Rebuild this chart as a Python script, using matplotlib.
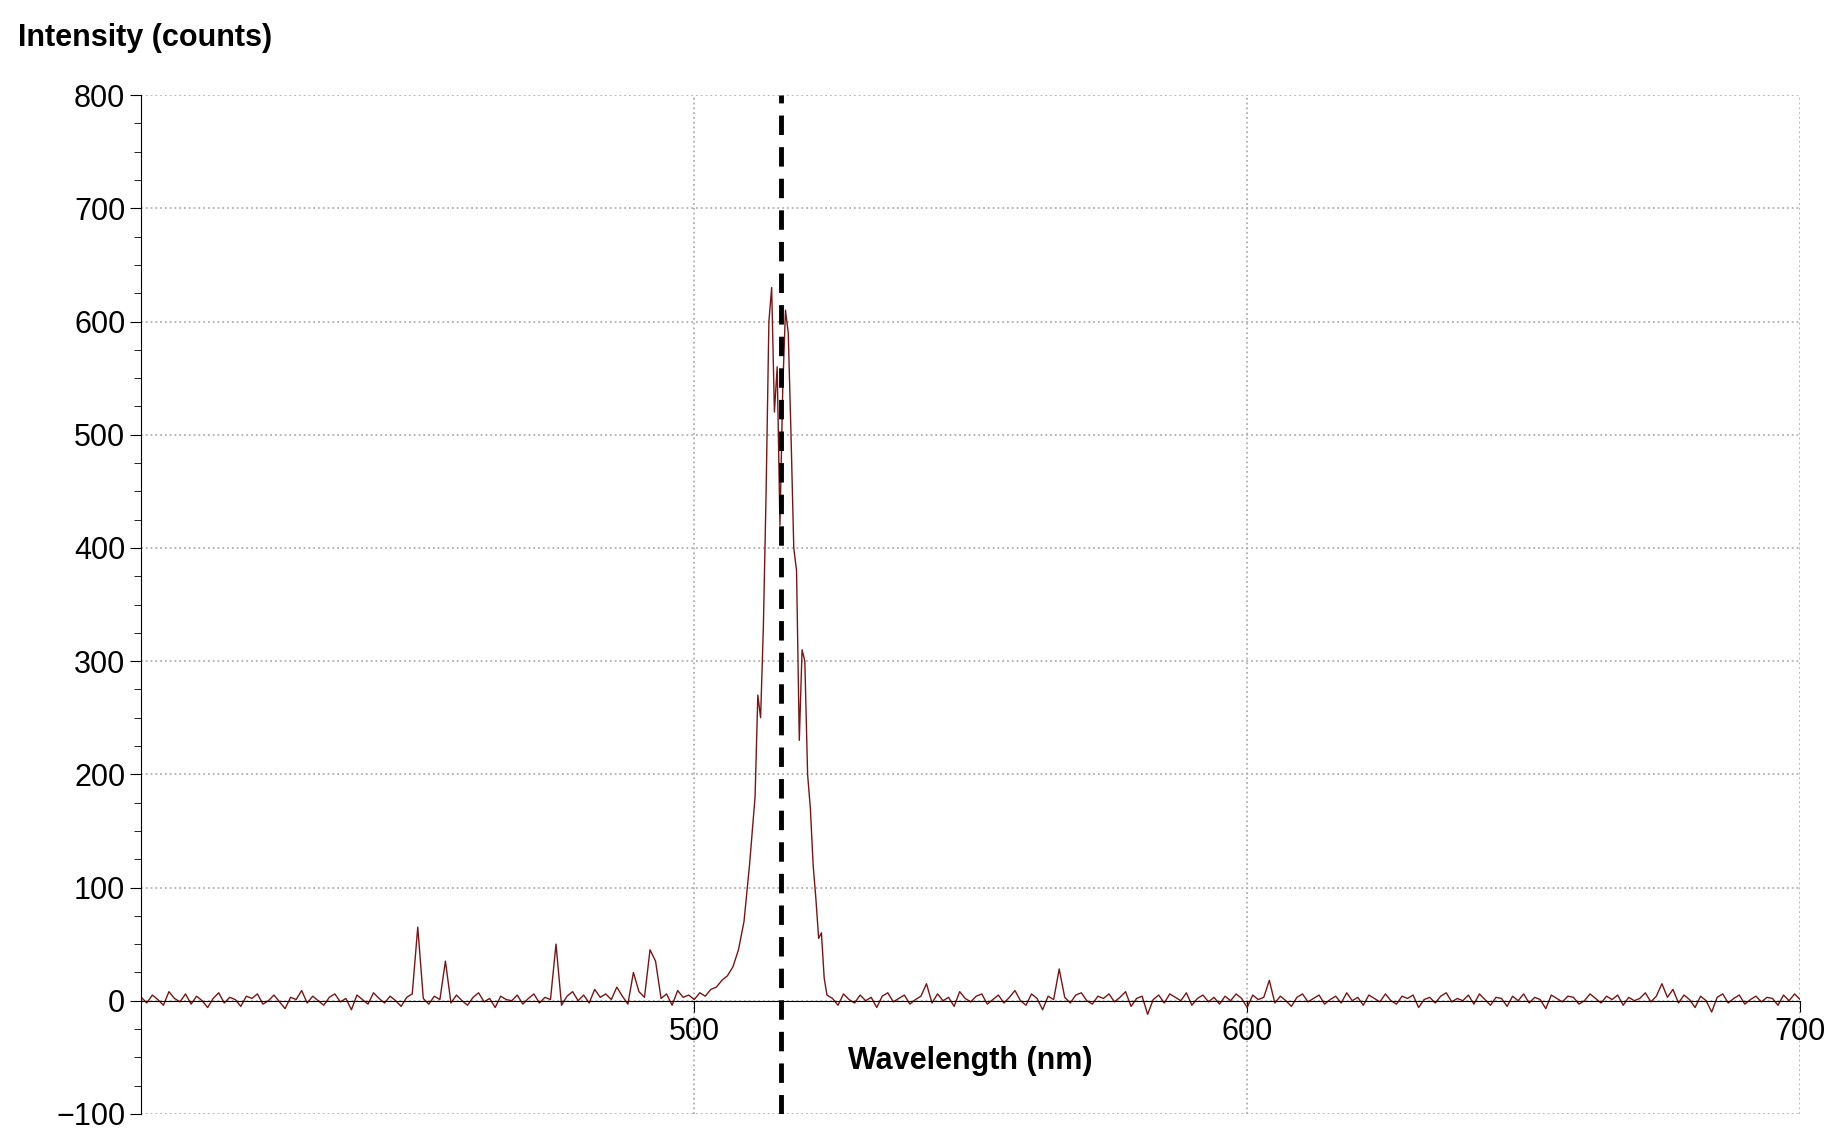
import numpy as np
import matplotlib.pyplot as plt
from matplotlib.ticker import MultipleLocator, FixedLocator

plt.rcParams['font.family'] = ['Liberation Sans', 'DejaVu Sans']

# baseline before the peak, 400-505 nm, 1 nm steps
wl_a = np.arange(400, 506)
int_a = [3, -2, 5, 1, -4, 8, 2, -1, 6, -3,
         4, 0, -6, 2, 7, -2, 3, 1, -5, 4,
         2, 6, -3, 0, 5, -1, -7, 3, 1, 9,
         -2, 4, 0, -4, 3, 6, -1, 2, -8, 5,
         1, -3, 7, 2, -2, 4, 0, -5, 3, 6,
         65, 2, -3, 4, 1, 35, -2, 5, 0, -4,
         3, 7, -1, 2, -6, 4, 1, 0, 5, -3,
         2, 6, -2, 3, 1, 50, -4, 4, 8, 0,
         5, -2, 10, 3, 6, 1, 12, 4, -3, 25,
         8, 3, 45, 35, 2, 6, -4, 9, 3, 5,
         1, 7, 4, 10, 12, 18]

# the emission peak
wl_p = [506, 507, 508, 509, 510, 511, 511.5, 512, 512.5, 513, 513.5, 514,
        514.5, 515, 515.5, 516, 516.5, 517, 517.5, 518, 518.5, 519, 519.5,
        520, 520.5, 521, 521.5, 522, 522.5, 523, 523.5, 524]
int_p = [22, 30, 45, 70, 120, 180, 270, 250, 330, 450, 600, 630,
         520, 560, 420, 540, 610, 590, 500, 400, 380, 230, 310,
         300, 200, 170, 120, 90, 55, 60, 20, 5]

# baseline after the peak, 525-700 nm
wl_b = np.arange(525, 701)
int_b = [2, -4, 6, 1, -2, 5, 0, 3, -6, 4,
         7, -1, 2, 5, -3, 1, 4, 15, -2, 6,
         0, 3, -5, 8, 2, -1, 4, 6, -3, 1,
         5, -2, 3, 9, 0, -4, 6, 2, -8, 4,
         1, 28, 3, -2, 5, 7, 0, -3, 4, 2,
         6, -1, 3, 8, -5, 2, 4, -12, 1, 5,
         -2, 6, 3, 0, 7, -4, 2, 5, -1, 3,
         -3, 4, 0, 6, 2, -6, 5, 1, 3, 18,
         -2, 4, 0, -5, 3, 6, -1, 2, 5, -3,
         1, 4, -2, 7, 0, 3, -4, 5, 2, -1,
         6, 0, -3, 4, 2, 5, -6, 1, 3, -2,
         4, 7, -1, 2, 0, 5, -3, 6, 1, -4,
         3, 2, -5, 4, 0, 6, -2, 3, 1, -7,
         5, 2, -1, 4, 3, -3, 0, 6, 2, -2,
         4, 1, 5, -4, 3, 0, 2, 7, -1, 4,
         15, 3, 10, -2, 5, 1, -6, 4, 0, -10,
         3, 6, -2, 2, 5, -3, 1, 4, -1, 3,
         2, -4, 5, 0, 6, 1]

wavelength = np.concatenate([wl_a, wl_p, wl_b])
intensity = np.concatenate([int_a, int_p, int_b])
marker_wl = 515.7

fig = plt.figure(figsize=(18.35, 11.46), dpi=100)
ax = fig.add_axes([0.077, 0.028, 0.904, 0.889])
ax.plot(wavelength, intensity, color='#7a1515', linewidth=1.0)
ax.axvline(marker_wl, color='black', linestyle=(0, (4, 2.5)), linewidth=3.5)

ax.set_xlim(400, 700)
ax.set_ylim(-100, 800)
ax.spines['top'].set_visible(False)
ax.spines['right'].set_visible(False)
ax.spines['bottom'].set_position(('data', 0))
ax.xaxis.set_major_locator(FixedLocator([500, 600, 700]))
ax.yaxis.set_major_locator(MultipleLocator(100))
ax.yaxis.set_minor_locator(MultipleLocator(25))
ax.tick_params(axis='both', labelsize=22, length=8)
ax.tick_params(axis='y', which='minor', length=5)
ax.set_yticklabels([f"{int(v)}".replace('-', '\u2212') for v in ax.get_yticks()])
ax.grid(True, which='major', color='#b0b0b0', linestyle=':', linewidth=1.3)

ax.text(550, -40, "Wavelength (nm)", fontsize=22, fontweight='bold', ha='center', va='top')
fig.text(0.01, 0.967, "Intensity (counts)", fontsize=22, fontweight='bold', ha='left', va='center')

fig.savefig("out.png", dpi=100)
